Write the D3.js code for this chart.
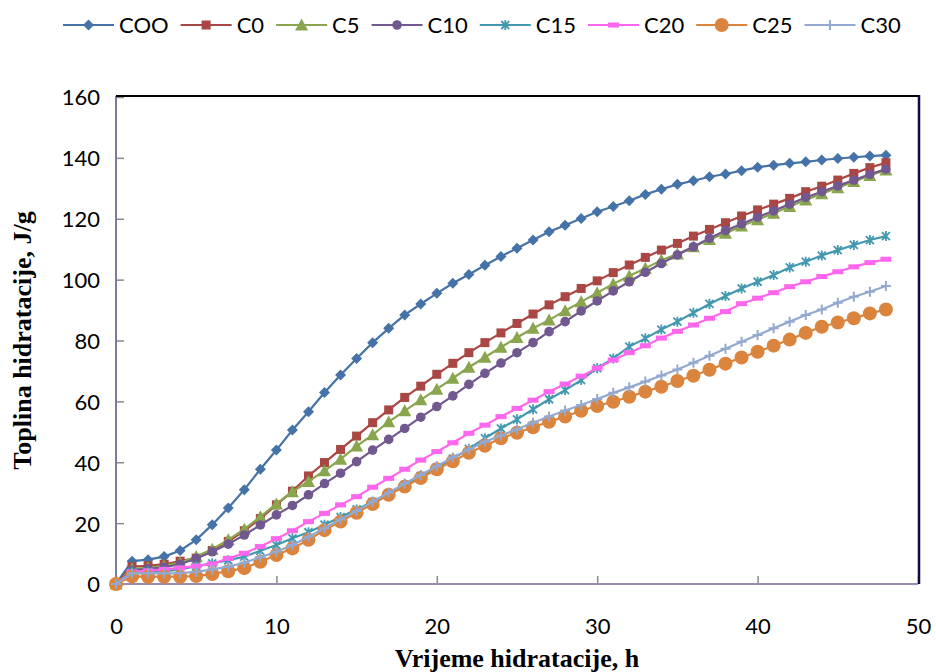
<!DOCTYPE html>
<html>
<head>
<meta charset="utf-8">
<script src="https://cdn.jsdelivr.net/npm/d3@7"></script>
<style>
  body { margin: 0; background: #fff; }
  svg { display: block; }
  .tick text { font-family: Lato, "Open Sans", sans-serif; font-size: 22px; fill: #000; }
  .legend text { font-family: Lato, "Open Sans", sans-serif; font-size: 22px; fill: #000; }
  .title { font-family: "Liberation Serif", "DejaVu Serif", serif; font-weight: bold; font-size: 26px; fill: #000; }
</style>
</head>
<body>
<div id="chart"></div>
<script>
// hours of hydration (x categories)
var hours = [0, 1, 2, 3, 4, 5, 6, 7, 8, 9, 10, 11, 12, 13, 14, 15, 16, 17, 18, 19, 20,
  21, 22, 23, 24, 25, 26, 27, 28, 29, 30, 31, 32, 33, 34, 35, 36, 37, 38, 39, 40,
  41, 42, 43, 44, 45, 46, 47, 48];

// heat of hydration, J/g
var COO = [0, 7.5, 8, 9, 11, 14.5, 19.5, 25, 31, 37.7, 44, 50.6, 56.6, 62.9, 68.7, 74.1, 79.3, 84, 88.4, 92,
  95.5, 98.8, 101.7, 104.7, 107.6, 110.3, 113, 115.7, 117.9, 120.1, 122.3, 124, 125.9, 128, 129.7,
  131.3, 132.5, 133.8, 134.7, 135.8, 136.9, 137.6, 138.2, 138.7, 139.3, 139.8, 140.2, 140.6, 140.9];
var C0 = [0, 5.7, 6, 6.5, 7.5, 8.5, 11, 14, 17.5, 21.5, 26, 30.5, 35.5, 39.9, 44.2, 48.6, 53, 57.2, 61.3, 65,
  68.9, 72.5, 76, 79.3, 82.5, 85.6, 88.7, 91.7, 94.4, 97.1, 99.6, 102.3, 104.8, 107.3, 109.7,
  111.9, 114.3, 116.5, 118.7, 120.9, 122.9, 124.8, 126.7, 128.9, 130.7, 132.7, 134.9, 136.8, 138.4];
var C5 = [0, 5, 5.3, 6, 7, 9, 11.4, 14.5, 18, 22.1, 26.3, 30.3, 33.7, 37.2, 41, 45.3, 49, 53.3, 56.9, 60.5,
  64, 67.6, 71.2, 74.5, 77.8, 81, 84, 86.7, 89.8, 92.7, 95.7, 98.6, 101.2, 103.7, 106.4,
  108.4, 110.8, 113.2, 115.2, 117.6, 119.7, 121.8, 124, 126.2, 128.2, 130.2, 132.2, 134.2, 136];
var C10 = [0, 4.5, 5, 5.5, 6.5, 8.4, 10.6, 13.1, 16.1, 19.4, 22.7, 25.8, 29.3, 33, 36.4, 40.2, 44, 47.5, 51.1, 54.8,
  58.3, 61.8, 65.6, 69.2, 72.6, 76, 79.3, 82.9, 86.2, 89.7, 93, 96.3, 99.3, 102.4, 105.3,
  108.1, 110.8, 113.6, 116.1, 118.3, 120.5, 122.6, 124.8, 127, 128.9, 130.8, 132.7, 134.6, 136.3];
var C15 = [0, 4, 4, 4.2, 4.7, 5.9, 6.8, 7.8, 9, 10.9, 12.8, 15, 17, 19.5, 22, 24.5, 27, 29.8, 32.5, 35.5,
  38.3, 41.2, 44.4, 47.9, 51.1, 54.1, 57.4, 60.7, 63.7, 67, 70.9, 74.1, 78, 80.7, 83.6,
  86.2, 89.1, 92, 94.6, 97.1, 99.3, 101.5, 104, 105.9, 107.9, 109.7, 111.4, 113, 114.3];
var C20 = [0, 4, 4.3, 4.8, 5.3, 5.9, 6.6, 8.4, 10.1, 12.3, 14.9, 17.5, 20.5, 23.2, 26, 28.7, 31.8, 34.7, 37.7, 40.7,
  43.5, 46.4, 49.5, 52.2, 55, 57.7, 60.4, 63.2, 65.7, 68.3, 70.9, 73.6, 76, 78.3, 80.8,
  83, 85.1, 87.3, 89.5, 92.1, 93.9, 95.7, 97.7, 99.3, 101, 102.6, 104.2, 105.6, 106.7];
var C25 = [0, 2.5, 2.4, 2.4, 2.4, 2.6, 3.3, 4.2, 5.2, 7.3, 9.5, 11.7, 14.5, 17.7, 20.5, 23.4, 26.3, 29.3, 32, 34.8,
  37.7, 40.3, 43.1, 45.4, 47.9, 49.7, 51.5, 53.3, 55, 56.9, 58.5, 59.9, 61.5, 63.2, 64.8,
  66.7, 68.4, 70.4, 72.4, 74.4, 76.3, 78.3, 80.3, 82.5, 84.5, 85.9, 87.3, 88.9, 90.2];
var C30 = [0, 3.5, 3.5, 3.5, 3.6, 4, 4.8, 5.7, 7, 8.8, 10.6, 12.8, 15.5, 18.3, 21.2, 24, 27, 30, 33, 35.8,
  38.7, 41.6, 44.2, 46.7, 48.8, 50.8, 53, 55, 57, 58.8, 60.8, 62.8, 64.6, 66.5, 68.5,
  70.5, 72.7, 75, 77.3, 79.6, 81.8, 84, 86.2, 88.4, 90.2, 92.4, 94.4, 96, 97.9];

var seriesNames = ["COO", "C0", "C5", "C10", "C15", "C20", "C25", "C30"];
var seriesValues = [COO, C0, C5, C10, C15, C20, C25, C30];

var xTicks = [0, 10, 20, 30, 40, 50];
var yTicks = [0, 20, 40, 60, 80, 100, 120, 140, 160];

var xTitle = "Vrijeme hidratacije, h";
var yTitle = "Toplina hidratacije, J/g";

// look of every series: colour + marker kind
var styles = [
  {color: "#4572a7", marker: "diamond"},
  {color: "#aa4643", marker: "square"},
  {color: "#89a54e", marker: "triangle"},
  {color: "#71588f", marker: "dot"},
  {color: "#4198af", marker: "star"},
  {color: "#ff66ee", marker: "dash"},
  {color: "#db843d", marker: "bigdot"},
  {color: "#93a9cf", marker: "plus"}
];

var width = 936, height = 672;
var plot = {left: 116, right: 918, top: 97, bottom: 584};

var svg = d3.select("#chart").append("svg")
  .attr("width", width)
  .attr("height", height);

var x = d3.scaleLinear().domain([0, 50]).range([plot.left, plot.right]);
var y = d3.scaleLinear().domain([0, 160]).range([plot.bottom, plot.top]);

// axes with inside ticks
var yAxis = d3.axisLeft(y).tickValues(yTicks).tickSizeInner(-8).tickSizeOuter(0).tickPadding(16);
var gy = svg.append("g")
  .attr("transform", "translate(" + plot.left + ",0)")
  .call(yAxis);
gy.select(".domain").remove();
gy.selectAll(".tick line").attr("stroke", "#8a8a8a").attr("stroke-width", 1.5);
gy.selectAll(".tick text").attr("dy", "0.36em");

var xAxis = d3.axisBottom(x).tickValues(xTicks).tickSizeInner(-8).tickSizeOuter(0);
var gx = svg.append("g")
  .attr("transform", "translate(0," + plot.bottom + ")")
  .call(xAxis);
gx.select(".domain").remove();
gx.selectAll(".tick line").attr("stroke", "#8a8a8a").attr("stroke-width", 1.5);
gx.selectAll(".tick text").attr("y", 50).attr("dy", 0);

// frame: gray left, lavender bottom, black top, dark right
svg.append("line").attr("x1", plot.left).attr("x2", plot.left)
  .attr("y1", plot.top - 1).attr("y2", plot.bottom)
  .attr("stroke", "#7c7c98").attr("stroke-width", 2);
svg.append("line").attr("x1", plot.left).attr("x2", plot.right)
  .attr("y1", plot.bottom).attr("y2", plot.bottom)
  .attr("stroke", "#9a8cb0").attr("stroke-width", 2);
svg.append("line").attr("x1", plot.left).attr("x2", plot.right + 1)
  .attr("y1", plot.top - 1).attr("y2", plot.top - 1)
  .attr("stroke", "#000").attr("stroke-width", 2);
svg.append("line").attr("x1", plot.right + 1).attr("x2", plot.right + 1)
  .attr("y1", plot.top - 2).attr("y2", plot.bottom)
  .attr("stroke", "#0c0c40").attr("stroke-width", 2.5);

// draws one marker centered at (cx, cy)
function drawMarker(g, kind, color, cx, cy) {
  if (kind === "diamond") {
    g.append("path")
      .attr("d", "M" + cx + "," + (cy - 5.5) + "L" + (cx + 5.5) + "," + cy + "L" + cx + "," + (cy + 5.5) + "L" + (cx - 5.5) + "," + cy + "Z")
      .attr("fill", color);
  } else if (kind === "square") {
    g.append("rect").attr("x", cx - 4.5).attr("y", cy - 4.5).attr("width", 9).attr("height", 9).attr("fill", color);
  } else if (kind === "triangle") {
    g.append("path")
      .attr("d", "M" + cx + "," + (cy - 6.5) + "L" + (cx + 6.5) + "," + (cy + 5.5) + "L" + (cx - 6.5) + "," + (cy + 5.5) + "Z")
      .attr("fill", color);
  } else if (kind === "dot") {
    g.append("circle").attr("cx", cx).attr("cy", cy).attr("r", 4.8).attr("fill", color);
  } else if (kind === "bigdot") {
    g.append("circle").attr("cx", cx).attr("cy", cy).attr("r", 7).attr("fill", color);
  } else if (kind === "dash") {
    g.append("rect").attr("x", cx - 5.5).attr("y", cy - 2.5).attr("width", 11).attr("height", 5).attr("fill", color);
  } else if (kind === "star") {
    g.append("path")
      .attr("d", "M" + (cx - 4) + "," + (cy - 4) + "L" + (cx + 4) + "," + (cy + 4) +
        "M" + (cx + 4) + "," + (cy - 4) + "L" + (cx - 4) + "," + (cy + 4) +
        "M" + cx + "," + (cy - 5) + "L" + cx + "," + (cy + 5))
      .attr("stroke", color).attr("stroke-width", 1.8).attr("fill", "none");
  } else if (kind === "plus") {
    g.append("path")
      .attr("d", "M" + (cx - 5) + "," + cy + "L" + (cx + 5) + "," + cy +
        "M" + cx + "," + (cy - 5) + "L" + cx + "," + (cy + 5))
      .attr("stroke", color).attr("stroke-width", 2).attr("fill", "none");
  }
}

var line = d3.line()
  .x(function (d, i) { return x(hours[i]); })
  .y(function (d) { return y(d); });

// series, in order, line then markers
var main = svg.append("g").attr("class", "main");
for (var s = 0; s < seriesValues.length; s++) {
  var g = main.append("g");
  g.append("path")
    .attr("d", line(seriesValues[s]))
    .attr("fill", "none")
    .attr("stroke", styles[s].color)
    .attr("stroke-width", 2.2);
  for (var i = 0; i < hours.length; i++) {
    drawMarker(g, styles[s].marker, styles[s].color, x(hours[i]), y(seriesValues[s][i]));
  }
}

// legend on top
var legend = svg.append("g").attr("class", "legend");
var lx = 63, ly = 25;
for (var s = 0; s < seriesNames.length; s++) {
  var item = legend.append("g");
  item.append("line")
    .attr("x1", lx).attr("x2", lx + 51)
    .attr("y1", ly).attr("y2", ly)
    .attr("stroke", styles[s].color).attr("stroke-width", 2.2);
  drawMarker(item, styles[s].marker, styles[s].color, lx + 25.5, ly);
  var t = item.append("text")
    .attr("x", lx + 56).attr("y", ly)
    .attr("dy", "0.36em")
    .text(seriesNames[s]);
  lx = lx + 56 + t.node().getComputedTextLength() + 12;
}

// axis titles
svg.append("text")
  .attr("class", "title")
  .attr("x", (plot.left + plot.right) / 2)
  .attr("y", 667)
  .attr("text-anchor", "middle")
  .text(xTitle);

svg.append("text")
  .attr("class", "title")
  .attr("transform", "translate(31," + ((plot.top + plot.bottom) / 2) + ") rotate(-90)")
  .attr("text-anchor", "middle")
  .text(yTitle);
</script>
</body>
</html>
